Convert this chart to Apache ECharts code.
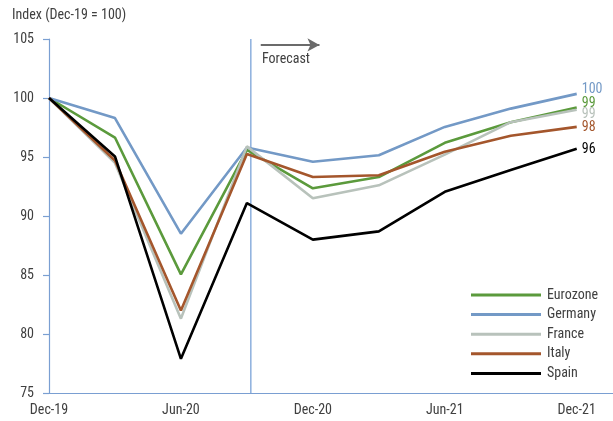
<!DOCTYPE html>
<html>
<head>
<meta charset="utf-8">
<script src="https://cdn.jsdelivr.net/npm/echarts@6/dist/echarts.min.js"></script>
<style>
  html, body { margin: 0; padding: 0; background: #fff; }
  #chart { width: 613px; height: 421px; }
</style>
</head>
<body>
<div id="chart"></div>
<script>
// Quarterly GDP index, Dec-19 = 100
const quarters = ['Dec-19', 'Mar-20', 'Jun-20', 'Sep-20', 'Dec-20', 'Mar-21', 'Jun-21', 'Sep-21', 'Dec-21'];
const tickLabels = { 0: 'Dec-19', 2: 'Jun-20', 4: 'Dec-20', 6: 'Jun-21', 8: 'Dec-21' };

const eurozone = [100, 96.65, 85.05, 95.6, 92.35, 93.3, 96.2, 97.95, 99.2];
const germany  = [100, 98.3, 88.5, 95.8, 94.6, 95.15, 97.55, 99.1, 100.35];
const france   = [100, 94.5, 81.3, 95.9, 91.5, 92.6, 95.2, 97.95, 99.0];
const italy    = [100, 94.7, 82.0, 95.25, 93.3, 93.45, 95.45, 96.8, 97.55];
const spain    = [100, 95.05, 77.9, 91.1, 88.0, 88.7, 92.05, 93.9, 95.7];

// forecast period starts just after the Sep-20 observation
const forecastStart = 3.06;

const FONT = "'Liberation Sans Narrow', 'Roboto Condensed', 'DejaVu Sans Condensed', sans-serif";
const TEXT = '#404040';
const AXIS = '#7a9fd2';
const Y_MIN = 75, Y_MAX = 105;

function pairs(values) {
  return values.map((v, i) => [i, v]);
}

function makeSeries(name, values, color, labelDy) {
  return {
    name: name,
    type: 'line',
    data: pairs(values),
    symbol: 'none',
    z: 3,
    lineStyle: { color: color, width: 2.6 },
    itemStyle: { color: color },
    endLabel: {
      show: true,
      color: color,
      fontFamily: FONT,
      fontSize: 14,
      distance: 5,
      offset: [0, labelDy],
      formatter: p => String(Math.round(p.value[1]))
    },
    emphasis: { disabled: true }
  };
}

const series = [
  // forecast divider, full height of the plot
  {
    name: 'forecast-divider',
    type: 'line',
    data: [[forecastStart, Y_MIN], [forecastStart, Y_MAX]],
    symbol: 'none',
    silent: true,
    z: 2,
    lineStyle: { color: '#6f9bd4', width: 1.2 },
    emphasis: { disabled: true }
  },
  makeSeries('Eurozone', eurozone, '#5b9a3c', -4),
  makeSeries('Germany', germany, '#7399c6', -4),
  makeSeries('France', france, '#b8c2bb', 4.5),
  makeSeries('Italy', italy, '#a4562c', 1),
  makeSeries('Spain', spain, '#000000', 1),
  // forecast arrow
  {
    name: 'forecast-arrow',
    type: 'line',
    data: [],
    markLine: {
      silent: true,
      symbol: ['none', 'arrow'],
      symbolSize: [10, 12],
      label: { show: false },
      itemStyle: { color: '#6b6b6b' },
      lineStyle: { color: '#6b6b6b', width: 2.2, type: 'solid', opacity: 1 },
      data: [[{ coord: [3.21, 104.5] }, { coord: [4.1, 104.5] }]]
    }
  }
];

const chart = echarts.init(document.getElementById('chart'), null, { renderer: 'canvas' });
chart.setOption({
  animation: false,
  backgroundColor: '#ffffff',
  textStyle: { fontFamily: FONT },
  grid: { left: 49, right: 0, top: 39, bottom: 28, containLabel: false },
  graphic: [
    {
      type: 'text', left: 12, top: 8,
      style: { text: 'Index (Dec-19 = 100)', fill: TEXT, font: '14px ' + FONT }
    },
    {
      type: 'text', left: 262, top: 52,
      style: { text: 'Forecast', fill: TEXT, font: '14px ' + FONT }
    }
  ],
  legend: {
    orient: 'vertical',
    left: 466,
    top: 283,
    padding: 5,
    icon: 'rect',
    itemWidth: 70,
    itemHeight: 3,
    itemGap: 5.6,
    data: ['Eurozone', 'Germany', 'France', 'Italy', 'Spain'],
    textStyle: { color: TEXT, fontFamily: FONT, fontSize: 14, padding: [0, 0, 0, 1] },
    selectedMode: false
  },
  xAxis: {
    type: 'value',
    min: 0,
    max: 8.55,
    interval: 2,
    axisLine: { show: true, lineStyle: { color: AXIS, width: 1.2 } },
    axisTick: { show: false },
    splitLine: { show: false },
    axisLabel: {
      color: TEXT, fontFamily: FONT, fontSize: 14, margin: 10,
      showMaxLabel: false,
      formatter: v => tickLabels[v] || ''
    }
  },
  yAxis: {
    type: 'value',
    min: Y_MIN,
    max: Y_MAX,
    interval: 5,
    axisLine: { show: true, lineStyle: { color: AXIS, width: 1.2 } },
    axisTick: { show: true, length: 6, lineStyle: { color: AXIS, width: 1.2 } },
    splitLine: { show: false },
    axisLabel: { color: TEXT, fontFamily: FONT, fontSize: 14, margin: 15 }
  },
  series: series
});
</script>
</body>
</html>
